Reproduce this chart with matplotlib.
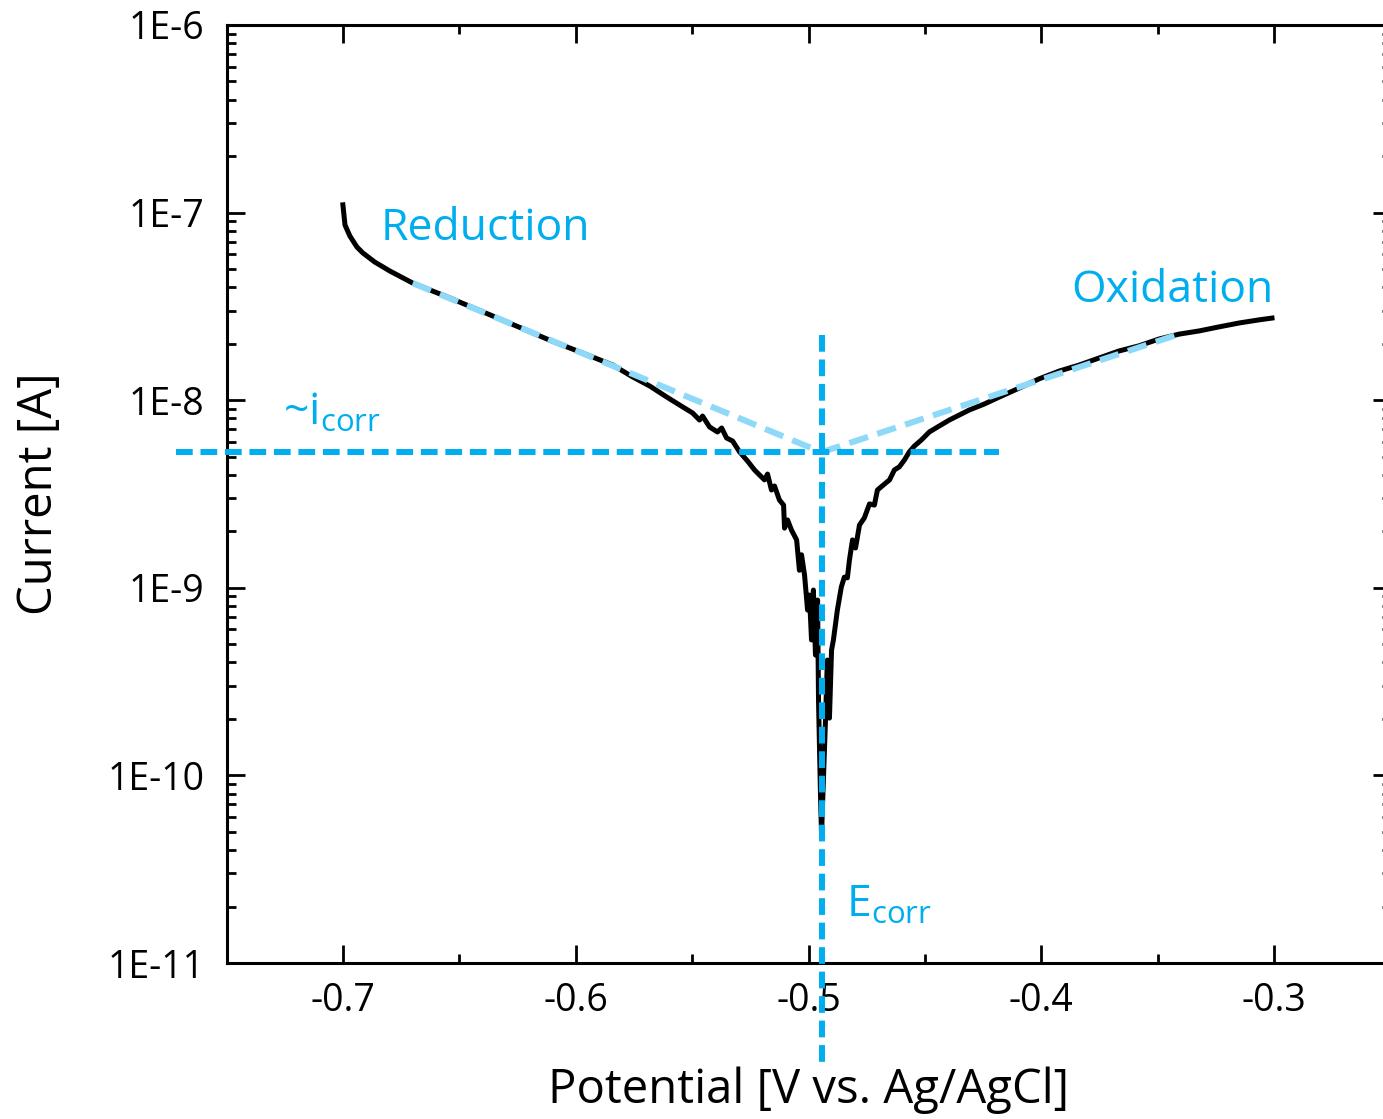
import numpy as np
import matplotlib
matplotlib.use('Agg')
import matplotlib.pyplot as plt
from matplotlib.ticker import LogLocator, FixedLocator, NullFormatter, FuncFormatter

plt.rcParams['font.family'] = ['Open Sans', 'DejaVu Sans']
plt.rcParams['mathtext.default'] = 'regular'

# potentiodynamic polarisation curve
potential = [-0.7000, -0.6991, -0.6970, -0.6940, -0.6914, -0.6863, -0.6798, -0.6700,
             -0.6541, -0.6326, -0.6112, -0.5983, -0.5841, -0.5755, -0.5682, -0.5609,
             -0.5554, -0.5498, -0.5468, -0.5455, -0.5425, -0.5391, -0.5373, -0.5352,
             -0.5326, -0.5296, -0.5262, -0.5232, -0.5210, -0.5189, -0.5176, -0.5159,
             -0.5146, -0.5125, -0.5107, -0.5103, -0.5090, -0.5073, -0.5051, -0.5039,
             -0.5030, -0.5017, -0.5004, -0.4996, -0.4987, -0.4979, -0.4970, -0.4961,
             -0.4957, -0.4949, -0.4944, -0.4936, -0.4927, -0.4919, -0.4910, -0.4901,
             -0.4893, -0.4876, -0.4859, -0.4846, -0.4833, -0.4824, -0.4811, -0.4798,
             -0.4781, -0.4760, -0.4738, -0.4717, -0.4704, -0.4674, -0.4652, -0.4631,
             -0.4610, -0.4588, -0.4567, -0.4545, -0.4515, -0.4481, -0.4438, -0.4395,
             -0.4352, -0.4309, -0.4245, -0.4180, -0.4095, -0.4009, -0.3923, -0.3837,
             -0.3751, -0.3666, -0.3580, -0.3494, -0.3408, -0.3322, -0.3236, -0.3150,
             -0.3065, -0.3009]
current = [1.10e-7, 8.59e-8, 7.50e-8, 6.56e-8, 6.09e-8, 5.45e-8, 4.88e-8, 4.21e-8,
           3.51e-8, 2.71e-8, 2.09e-8, 1.81e-8, 1.54e-8, 1.33e-8, 1.19e-8, 1.04e-8,
           9.43e-9, 8.55e-9, 7.84e-9, 8.23e-9, 7.20e-9, 6.77e-9, 7.11e-9, 6.29e-9,
           6.06e-9, 5.30e-9, 4.74e-9, 4.25e-9, 3.99e-9, 3.76e-9, 4.04e-9, 3.32e-9,
           3.49e-9, 2.94e-9, 2.76e-9, 2.08e-9, 2.30e-9, 2.03e-9, 1.80e-9, 1.24e-9,
           1.50e-9, 1.17e-9, 7.61e-10, 9.15e-10, 5.27e-10, 9.73e-10, 4.38e-10, 8.61e-10,
           2.52e-10, 8.36e-11, 4.81e-11, 9.45e-11, 1.97e-10, 4.12e-10, 2.02e-10, 4.66e-10,
           5.27e-10, 7.61e-10, 1.01e-9, 1.14e-9, 1.13e-9, 1.41e-9, 1.80e-9, 1.63e-9,
           2.16e-9, 2.36e-9, 2.80e-9, 2.76e-9, 3.32e-9, 3.57e-9, 3.76e-9, 4.25e-9,
           4.41e-9, 4.80e-9, 5.30e-9, 5.70e-9, 6.14e-9, 6.77e-9, 7.29e-9, 7.84e-9,
           8.34e-9, 8.87e-9, 9.54e-9, 1.04e-8, 1.16e-8, 1.30e-8, 1.43e-8, 1.54e-8,
           1.68e-8, 1.83e-8, 1.95e-8, 2.12e-8, 2.25e-8, 2.34e-8, 2.46e-8, 2.58e-8,
           2.68e-8, 2.74e-8]

# Tafel extrapolations and corrosion point
e_corr = -0.4944
i_corr = 5.28e-9
cathodic_fit_x = [-0.6700, e_corr]
cathodic_fit_y = [4.21e-8, i_corr]
anodic_fit_x = [e_corr, -0.3408]
anodic_fit_y = [i_corr, 2.25e-8]
icorr_line_x = [-0.7717, -0.4180]
ecorr_line_y = [2.22e-8, 2.75e-12]

xticks = [-0.7, -0.6, -0.5, -0.4, -0.3]
xlabels = ['-0.7', '-0.6', '-0.5', '-0.4', '-0.3']

blue = '#00aeef'
light_blue = '#8ed8f8'

fig = plt.figure(figsize=(13.83, 11.19), dpi=100)
ax = fig.add_axes([226.5 / 1383, 156 / 1119, 1164 / 1383, 938 / 1119])

ax.plot(potential, current, color='black', lw=3.6, zorder=2)
ax.plot(cathodic_fit_x, cathodic_fit_y, color=light_blue, lw=4.4,
        dashes=(3.2, 1.6), zorder=3)
ax.plot(anodic_fit_x, anodic_fit_y, color=light_blue, lw=4.4,
        dashes=(3.2, 1.6), zorder=3)
ax.plot(icorr_line_x, [i_corr, i_corr], color=blue, lw=4.3,
        dashes=(2.8, 1.3), zorder=4, clip_on=False)
ax.plot([e_corr, e_corr], ecorr_line_y, color=blue, lw=4.3,
        dashes=(2.8, 1.3), zorder=4, clip_on=False)

ax.set_yscale('log')
ax.set_xlim(-0.75, -0.25)
ax.set_ylim(1e-11, 1e-6)

ax.xaxis.set_major_locator(FixedLocator(xticks))
ax.set_xticklabels(xlabels)
ax.xaxis.set_minor_locator(FixedLocator([-0.75, -0.65, -0.55, -0.45, -0.35, -0.25]))
ax.yaxis.set_major_locator(LogLocator(base=10, numticks=20))
ax.yaxis.set_minor_locator(LogLocator(base=10, subs=np.arange(2, 10), numticks=20))
ax.yaxis.set_minor_formatter(NullFormatter())
ax.yaxis.set_major_formatter(FuncFormatter(lambda v, p: '1E%d' % round(np.log10(v))))

for s in ax.spines.values():
    s.set_linewidth(2.2)
ax.tick_params(which='both', direction='in', top=True, right=True, width=2.0)
ax.tick_params(which='major', length=13, labelsize=27)
ax.tick_params(axis='y', which='major', pad=16)
ax.tick_params(axis='x', which='major', pad=14)
ax.tick_params(which='minor', length=6.5)

ax.set_xlabel('Potential [V vs. Ag/AgCl]', fontsize=34, labelpad=33)
ax.set_ylabel('Current [A]', fontsize=34, labelpad=32)

ax.text(-0.6837, 7.14e-8, 'Reduction', color=blue, fontsize=32, va='baseline')
ax.text(-0.3872, 3.34e-8, 'Oxidation', color=blue, fontsize=32, va='baseline')
ax.text(-0.7258, 7.38e-9, '~i$_{corr}$', color=blue, fontsize=32, va='baseline')
ax.text(-0.4841, 1.76e-11, 'E$_{corr}$', color=blue, fontsize=32, va='baseline')

fig.savefig('out.png', dpi=100)
